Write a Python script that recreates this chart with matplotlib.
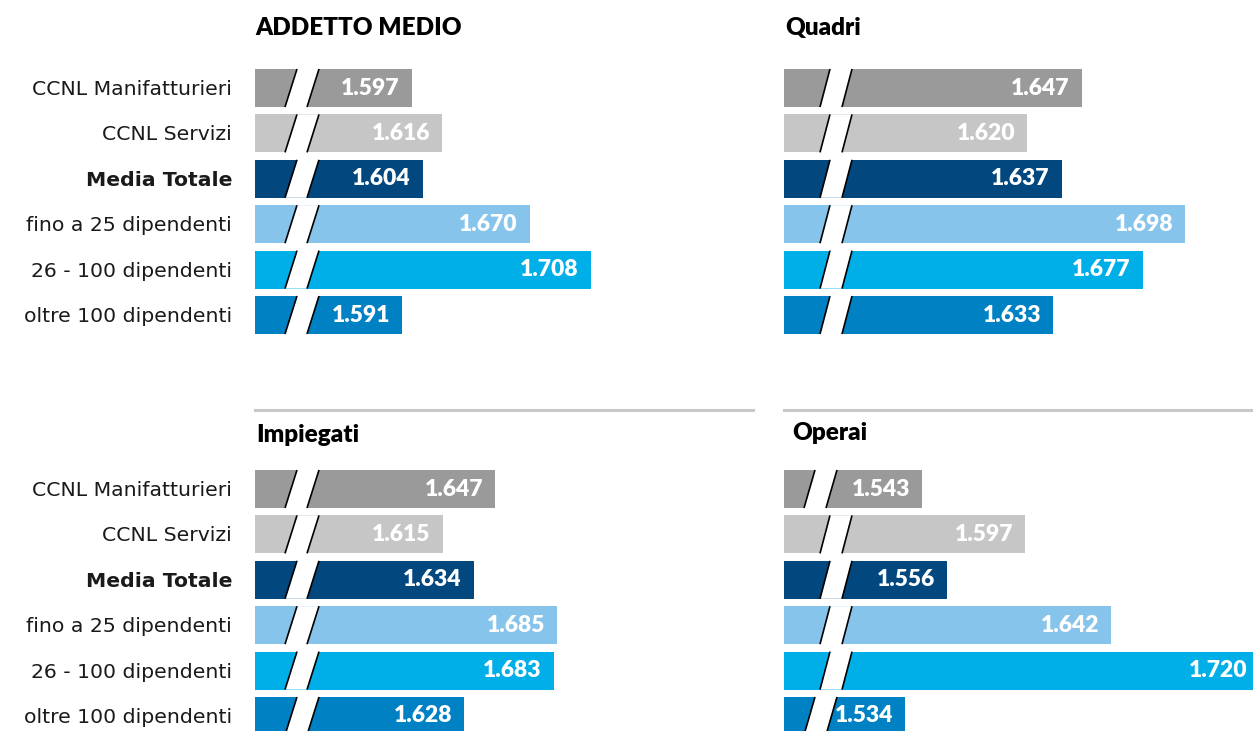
import matplotlib
matplotlib.use("Agg")
import matplotlib.pyplot as plt
from matplotlib.patches import Polygon
from matplotlib.lines import Line2D

W, H = 1253, 731

categories = ["CCNL Manifatturieri", "CCNL Servizi", "Media Totale",
              "fino a 25 dipendenti", "26 - 100 dipendenti", "oltre 100 dipendenti"]
colors = ["#9a9a9a", "#c6c6c6", "#03477f", "#86c4ec", "#00aee8", "#0081c4"]

titles = ["ADDETTO MEDIO", "Quadri", "Impiegati", "Operai"]
addetto_medio = [1.597, 1.616, 1.604, 1.670, 1.708, 1.591]
quadri = [1.647, 1.620, 1.637, 1.698, 1.677, 1.633]
impiegati = [1.647, 1.615, 1.634, 1.685, 1.683, 1.628]
operai = [1.543, 1.597, 1.556, 1.642, 1.720, 1.534]

# panel boxes in pixels: left, right, y of first row centre, x range
panels = [
    dict(vals=addetto_medio, left=255, right=753, y0=88, xlim=(1.5, 1.8084),
         title_xy=(255, 28), brk=[(30, 42)] * 6),
    dict(vals=quadri, left=784, right=1253, y0=88, xlim=(1.5, 1.7315),
         title_xy=(785, 28), brk=[(36, 46)] * 6),
    dict(vals=impiegati, left=255, right=753, y0=489, xlim=(1.5, 1.8051),
         title_xy=(256, 435), brk=[(30, 42)] * 6),
    dict(vals=operai, left=784, right=1253, y0=489, xlim=(1.4706, 1.7165),
         title_xy=(792, 433), brk=[(20, 31), (36, 46), (36, 46), (36, 46), (36, 46), (20, 31)]),
]

ROW = 45.4
BAR_H = 38 / ROW
GAP = 22

fig = plt.figure(figsize=(W / 100, H / 100), dpi=100)

for i, p in enumerate(panels):
    top = p["y0"] - ROW / 2
    bot = p["y0"] + ROW * 5.5
    ax = fig.add_axes([p["left"] / W, 1 - bot / H, (p["right"] - p["left"]) / W, (bot - top) / H])
    x0, x1 = p["xlim"]
    rows = range(len(categories))
    ax.barh(list(rows), [v - x0 for v in p["vals"]], left=x0, height=BAR_H,
            color=colors, zorder=2)
    ax.set_xlim(x0, x1)
    ax.set_ylim(5.5, -0.5)
    ax.axis("off")

    # slanted break on every bar
    k = (x1 - x0) / (p["right"] - p["left"])
    for r, (b_lo, b_hi) in zip(rows, p["brk"]):
        yt, yb = r - BAR_H / 2, r + BAR_H / 2
        xl_b, xl_t = x0 + b_lo * k, x0 + b_hi * k
        xr_b, xr_t = x0 + (b_lo + GAP) * k, x0 + (b_hi + GAP) * k
        ax.add_patch(Polygon([(xl_b, yb), (xl_t, yt), (xr_t, yt), (xr_b, yb)],
                             closed=True, facecolor="white", edgecolor="none", zorder=3))
        ax.plot([xl_b, xl_t], [yb, yt], color="black", lw=1.2, zorder=4, solid_capstyle="butt")
        ax.plot([xr_b, xr_t], [yb, yt], color="black", lw=1.2, zorder=4, solid_capstyle="butt")

    # value labels inside bar ends
    for r, v in zip(rows, p["vals"]):
        ax.annotate(f"{v:.3f}", xy=(v, r), xytext=(-12, 0), textcoords="offset pixels",
                    ha="right", va="center", color="white", fontsize=16.5,
                    family="Lato", fontweight="heavy", zorder=5, annotation_clip=False)

    # category labels for left column
    if p["left"] == 255:
        for r, c in zip(rows, categories):
            fig.text(232 / W, 1 - (p["y0"] + 1.5 + r * ROW) / H, c, ha="right", va="center",
                     fontsize=14.7, color="#1a1a1a", family="DejaVu Sans",
                     fontweight="bold" if c == "Media Totale" else "normal")

    tx, ty = p["title_xy"]
    fig.text(tx / W, 1 - ty / H, titles[i], ha="left", va="center", fontsize=17.5,
             family="Lato", fontweight="heavy", color="black")

# separator lines above the lower panels
for xa, xb in [(255, 753), (784, 1253)]:
    fig.add_artist(Line2D([xa / W, xb / W], [1 - 409.5 / H] * 2, color="#c8c8c8", lw=2.2))

fig.savefig("out.png", dpi=100, facecolor="white")
